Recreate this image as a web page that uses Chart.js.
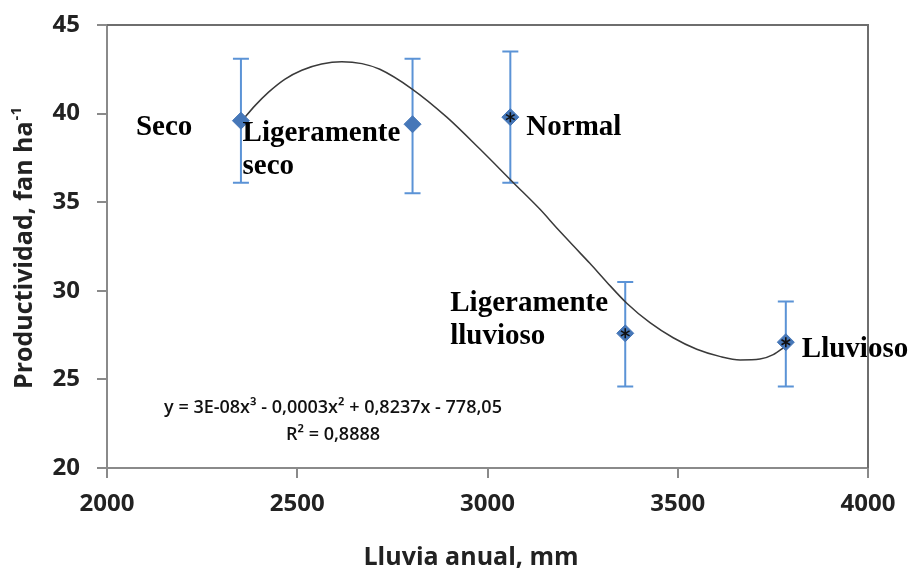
<!DOCTYPE html>
<html>
<head>
<meta charset="utf-8">
<script src="https://cdn.jsdelivr.net/npm/chart.js@4.4.1/dist/chart.umd.min.js"></script>
<style>
  html, body { margin: 0; padding: 0; background: #fff; }
  #wrap { width: 912px; height: 571px; }
</style>
</head>
<body>
<div id="wrap"><canvas id="chart" width="912" height="571"></canvas></div>
<script>
// measured points (annual rainfall vs productivity)
const rainfall     = [2352, 2803, 3060, 3362, 3784];
const productivity = [39.6, 39.4, 39.8, 27.6, 27.1];
const errLow       = [36.1, 35.5, 36.1, 24.6, 24.6];
const errHigh      = [43.1, 43.1, 43.5, 30.5, 29.4];
const pointNames   = [["Seco"], ["Ligeramente", "seco"], ["Normal"], ["Ligeramente", "lluvioso"], ["Lluvioso"]];
const starred      = [false, false, true, true, true];

// polynomial trend line
const trendX = [2355, 2389, 2424, 2468, 2512, 2564, 2617, 2670, 2717, 2801, 2893, 2980, 3068, 3138, 3182, 3225, 3269, 3313, 3366, 3427, 3488, 3550, 3610, 3664, 3716, 3751, 3782];
const trendY = [39.6, 40.45, 41.2, 41.95, 42.45, 42.8, 42.93, 42.82, 42.5, 41.4, 39.8, 38.0, 36.1, 34.6, 33.55, 32.55, 31.55, 30.5, 29.3, 28.2, 27.35, 26.7, 26.3, 26.1, 26.15, 26.4, 26.85];

const xTicks = [2000, 2500, 3000, 3500, 4000];
const yTicks = [20, 25, 30, 35, 40, 45];
const equationLines = ["y = 3E-08x³ - 0,0003x² + 0,8237x - 778,05", "R² = 0,8888"];
const xTitle = "Lluvia anual, mm";
const yTitle = "Productividad, fan ha";
const yTitleSup = "-1";

// label placement relative to each point (px)
const labelOffsets = [[-105, 14], [-170, 17], [16, 18], [-175, -22], [16, 15]];
const labelLineHeight = 33;

const tickFont = { family: "'Open Sans'", size: 24, weight: "bold" };
const axisColor = "#8a8a8a";

const decorations = {
    id: "decorations",
    beforeDatasetsDraw(chart) {
        const { ctx, scales: { x, y } } = chart;
        ctx.save();
        ctx.strokeStyle = "#5b93d6";
        ctx.lineWidth = 2;
        rainfall.forEach((r, i) => {
            const px = x.getPixelForValue(r);
            const top = y.getPixelForValue(errHigh[i]);
            const bot = y.getPixelForValue(errLow[i]);
            ctx.beginPath();
            ctx.moveTo(px, top); ctx.lineTo(px, bot);
            ctx.moveTo(px - 8, top); ctx.lineTo(px + 8, top);
            ctx.moveTo(px - 8, bot); ctx.lineTo(px + 8, bot);
            ctx.stroke();
        });
        ctx.restore();
    },
    afterDatasetsDraw(chart) {
        const { ctx, scales: { x, y } } = chart;
        ctx.save();
        // asterisks on marked points
        ctx.strokeStyle = "#111";
        ctx.lineWidth = 1.6;
        rainfall.forEach((r, i) => {
            if (!starred[i]) return;
            const px = x.getPixelForValue(r);
            const py = y.getPixelForValue(productivity[i]);
            ctx.beginPath();
            for (let a = 0; a < 3; a++) {
                const ang = Math.PI / 2 + a * Math.PI / 3;
                ctx.moveTo(px - 5 * Math.cos(ang), py - 5 * Math.sin(ang));
                ctx.lineTo(px + 5 * Math.cos(ang), py + 5 * Math.sin(ang));
            }
            ctx.stroke();
        });
        // point names
        ctx.fillStyle = "#000";
        ctx.font = "bold 29px 'Liberation Serif'";
        ctx.textAlign = "left";
        ctx.textBaseline = "alphabetic";
        pointNames.forEach((lines, i) => {
            const px = x.getPixelForValue(rainfall[i]) + labelOffsets[i][0];
            const py = y.getPixelForValue(productivity[i]) + labelOffsets[i][1];
            lines.forEach((t, k) => ctx.fillText(t, px, py + k * labelLineHeight));
        });
        // trend equation
        ctx.font = "600 18px 'Open Sans'";
        ctx.textAlign = "center";
        ctx.fillStyle = "#111";
        const ex = x.getPixelForValue(2594);
        ctx.fillText(equationLines[0], ex, y.getPixelForValue(23.1));
        ctx.fillText(equationLines[1], ex, y.getPixelForValue(21.6));
        ctx.restore();
    },
    afterDraw(chart) {
        const { ctx, chartArea: a } = chart;
        ctx.save();
        // plot box top and right
        ctx.strokeStyle = "#6e6e6e";
        ctx.lineWidth = 2;
        ctx.beginPath();
        ctx.moveTo(a.left, a.top); ctx.lineTo(a.right, a.top); ctx.lineTo(a.right, a.bottom);
        ctx.stroke();
        // x title
        ctx.fillStyle = "#222";
        ctx.font = "bold 25px 'Open Sans'";
        ctx.textAlign = "center";
        ctx.textBaseline = "alphabetic";
        ctx.fillText(xTitle, 471, 565);
        // y title with superscript
        ctx.translate(32, (a.top + a.bottom) / 2 + 2);
        ctx.rotate(-Math.PI / 2);
        ctx.font = "bold 25px 'Open Sans'";
        const w1 = ctx.measureText(yTitle).width;
        ctx.font = "bold 15px 'Open Sans'";
        const w2 = ctx.measureText(yTitleSup).width;
        const start = -(w1 + w2) / 2;
        ctx.textAlign = "left";
        ctx.font = "bold 25px 'Open Sans'";
        ctx.fillText(yTitle, start, 0);
        ctx.font = "bold 15px 'Open Sans'";
        ctx.fillText(yTitleSup, start + w1 + 1, -11);
        ctx.restore();
    }
};

new Chart(document.getElementById("chart"), {
    type: "scatter",
    data: {
        datasets: [
            {
                label: "Productividad",
                data: rainfall.map((r, i) => ({ x: r, y: productivity[i] })),
                pointStyle: "rectRot",
                pointRadius: 8.5,
                backgroundColor: "#4677b8",
                borderColor: "#4677b8",
                borderWidth: 1,
                showLine: false
            },
            {
                label: "Tendencia",
                data: trendX.map((v, i) => ({ x: v, y: trendY[i] })),
                showLine: true,
                pointRadius: 0,
                borderColor: "#3a3a3a",
                borderWidth: 1.5,
                cubicInterpolationMode: "monotone"
            }
        ]
    },
    options: {
        responsive: false,
        animation: false,
        devicePixelRatio: 1,
        layout: { padding: { top: 25, right: 44, left: 0, bottom: 0 } },
        plugins: { legend: { display: false }, tooltip: { enabled: false } },
        scales: {
            x: {
                type: "linear", min: 2000, max: 4000,
                afterBuildTicks: s => { s.ticks = xTicks.map(v => ({ value: v })); },
                afterFit: s => { s.height = 103; s.paddingLeft = 0; s.paddingRight = 0; },
                ticks: { font: tickFont, color: "#222", padding: 12, callback: v => String(v), maxRotation: 0 },
                grid: { drawOnChartArea: false, drawTicks: true, tickLength: 10, color: axisColor, lineWidth: 2 },
                border: { color: axisColor, width: 2 }
            },
            y: {
                type: "linear", min: 20, max: 45,
                afterBuildTicks: s => { s.ticks = yTicks.map(v => ({ value: v })); },
                afterFit: s => { s.width = 107; s.paddingTop = 0; s.paddingBottom = 0; },
                ticks: { font: tickFont, color: "#222", padding: 17, callback: v => String(v) },
                grid: { drawOnChartArea: false, drawTicks: true, tickLength: 10, color: axisColor, lineWidth: 2 },
                border: { color: axisColor, width: 2 }
            }
        }
    },
    plugins: [decorations]
});
</script>
</body>
</html>
